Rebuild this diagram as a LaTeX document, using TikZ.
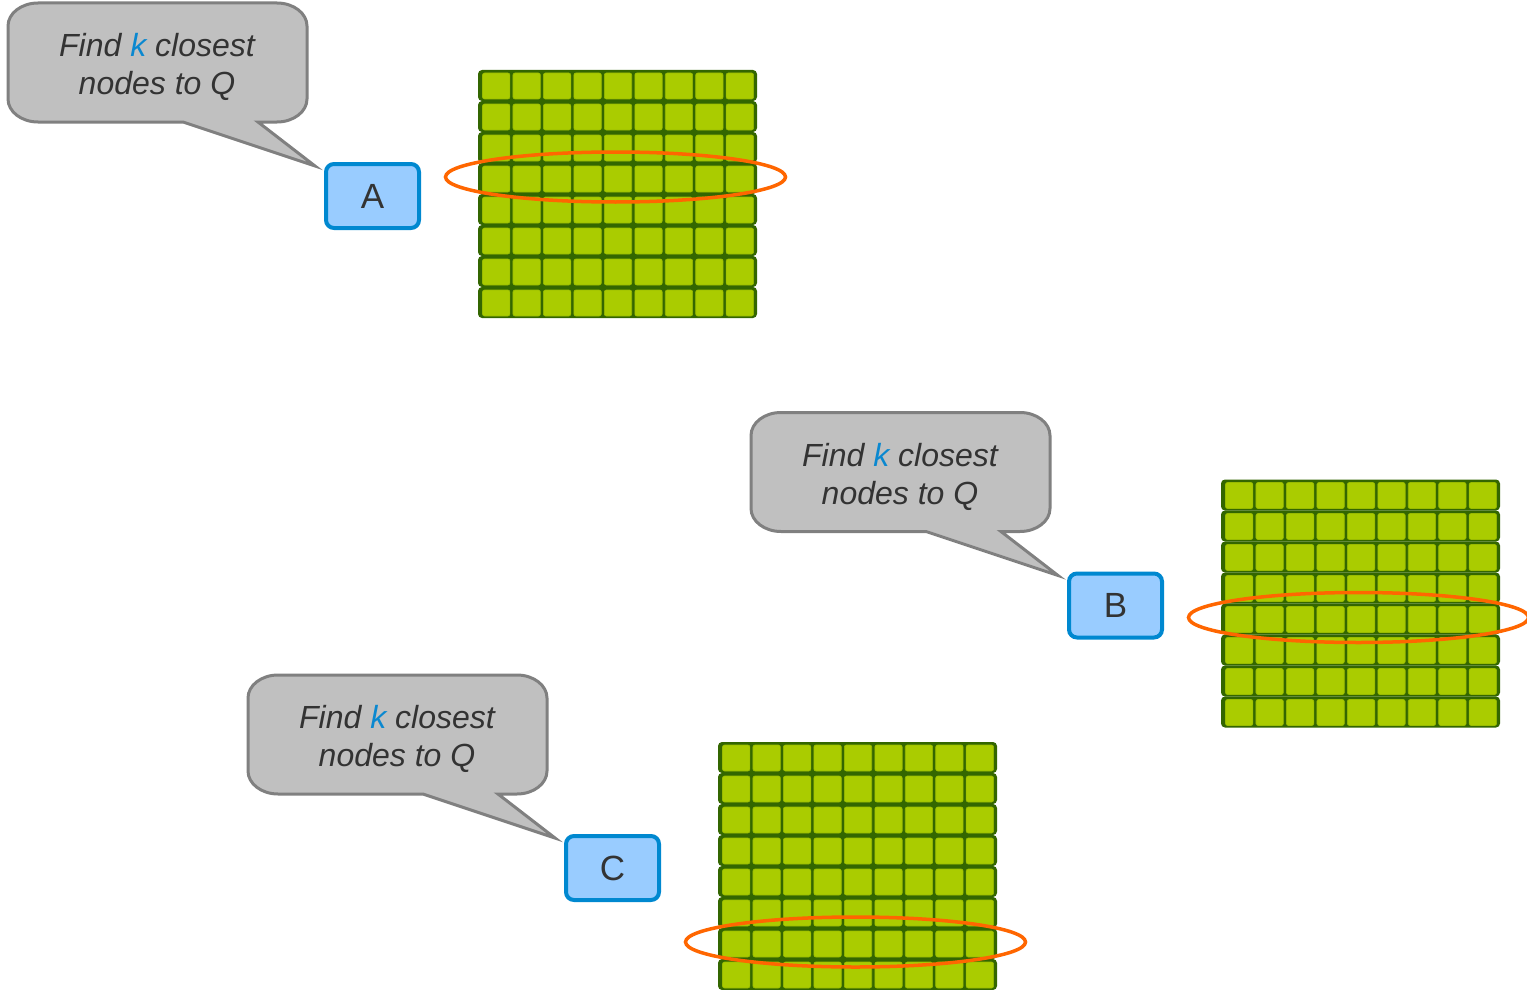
\documentclass[tikz,border=0pt]{standalone}
\usepackage{fontspec}
\setmainfont{Liberation Sans}
\definecolor{calloutfill}{HTML}{C0C0C0}
\definecolor{calloutdraw}{HTML}{808080}
\definecolor{txt}{HTML}{333333}
\definecolor{kblue}{HTML}{0A88D0}
\definecolor{boxfill}{HTML}{99CCFF}
\definecolor{boxdraw}{HTML}{0088D0}
\definecolor{gdark}{HTML}{336600}
\definecolor{glight}{HTML}{AACC00}
\definecolor{gedge}{HTML}{99BB00}
\definecolor{sel}{HTML}{FF6600}
\tikzset{
 callout/.style={fill=calloutfill, draw=calloutdraw, line width=3pt},
 callouttext/.style={align=center, text=txt, font=\fontsize{32}{38}\selectfont\itshape, inner sep=0pt},
 letterbox/.style={fill=boxfill, draw=boxdraw, line width=4pt, rounded corners=8pt, minimum width=93pt, minimum height=64pt, inner sep=0pt, text=txt, font=\fontsize{35}{40}\selectfont},
 rowband/.style={fill=gdark, rounded corners=4pt},
 cell/.style={fill=glight, draw=gedge, line width=0.6pt, rounded corners=2pt},
 selring/.style={draw=sel, line width=3.5pt},
}
\newcommand\drawgroup[4]{%
\begin{scope}[shift={(#1,-#2)}]
 \draw[callout] (183,-122) -- (315,-166) -- (258,-122) -- (277,-122)
   arc[start angle=270,end angle=360,x radius=30pt,y radius=23pt] -- (307,-26)
   arc[start angle=0,end angle=90,x radius=30pt,y radius=23pt] -- (38,-3)
   arc[start angle=90,end angle=180,x radius=30pt,y radius=23pt] -- (8,-99)
   arc[start angle=180,end angle=270,x radius=30pt,y radius=23pt] -- cycle;
 \node[callouttext] (say#3) at (157,-67) {Find \textcolor{kblue}{k} closest\\nodes to Q};
 \node[letterbox] (box#3) at (372.5,-196) {#3};
 \foreach \ri in {0,...,7} {
   \fill[rowband] (478,{-70-31*\ri}) rectangle (757,{-101-31*\ri});
   \foreach \ci in {0,...,8} {
     \draw[cell] ({482.5+30.46*\ci},{-73-31*\ri}) rectangle ++(27.4,-26);
   }
 }
 \draw[selring] (615.5,{-84-31*#4}) ellipse[x radius=170pt, y radius=25pt];
\end{scope}}
\begin{document}
\begin{tikzpicture}[x=1pt,y=1pt]
\useasboundingbox (0,0) rectangle (1527,-990);
\drawgroup{0}{0}{A}{3}
\drawgroup{743}{409.5}{B}{4}
\drawgroup{240}{672}{C}{6}
\end{tikzpicture}
\end{document}
